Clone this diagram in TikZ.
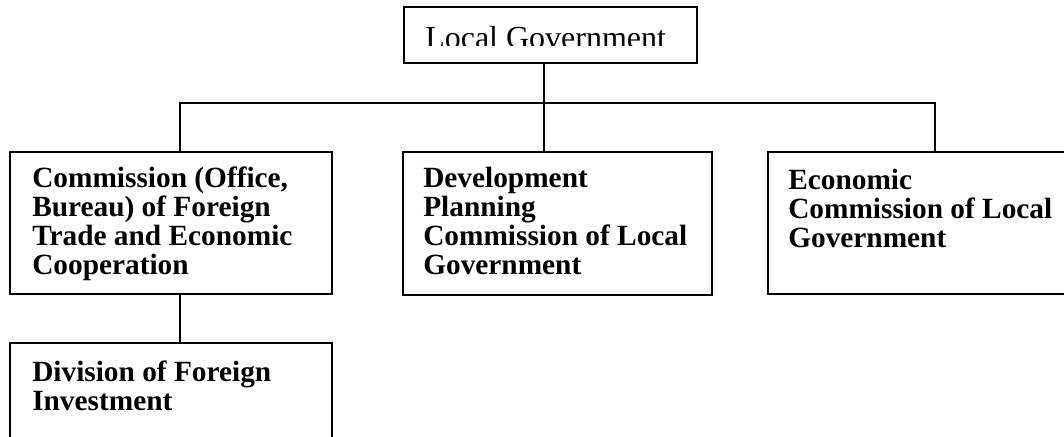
\documentclass[tikz,border=0pt]{standalone}
\usepackage{fontspec}
\setmainfont{Liberation Serif}
\usetikzlibrary{fit}

\tikzset{
  box/.style={draw, line width=1.1pt, inner sep=0pt, fit={#1}},
  boxtext/.style={anchor=base west, align=left, inner sep=0pt,
    font=\fontsize{22}{21.75}\selectfont\bfseries},
  wire/.style={line width=1.1pt}
}

\begin{document}
\begin{tikzpicture}[x=0.75pt, y=-0.75pt]
      \useasboundingbox (0,0) rectangle (1064,436);
      \clip (0,0) rectangle (1064,436);
      % boxes
      \node[box={(404,7) (697,63)}] (gov) {};
      \node[box={(10,152) (332,294)}] (com) {};
      \node[box={(403,152) (712,295)}] (dev) {};
      \node[box={(768,152) (1090,294)}] (eco) {};
      \node[box={(10,343) (332,470)}] (div) {};
      % texts (anchored on the last line)
      \begin{scope}
        \clip (404,7) rectangle (697,45);
        \node[anchor=base west, inner sep=0pt, font=\fontsize{24}{24}\selectfont] (govtext) at (425,48) {Local Government};
      \end{scope}
      \node[boxtext] (comtext) at (32,274) {Commission (Office,\\Bureau) of Foreign\\Trade and Economic\\Cooperation};
      \node[boxtext] (devtext) at (423,274) {Development\\Planning\\Commission of Local\\Government};
      \node[boxtext] (ecotext) at (788,247) {Economic\\Commission of Local\\Government};
      \node[boxtext] (divtext) at (32,410) {Division of Foreign\\Investment};
      % connectors
      \coordinate (jl) at (180,103);
      \coordinate (jm) at (544,103);
      \coordinate (jr) at (935,103);
      \draw[wire] (jm |- gov.south) -- (jm) -- (jm |- dev.north);
      \draw[wire] (jl |- com.north) -- (jl) -- (jr) -- (jr |- eco.north);
      \draw[wire] (jl |- com.south) -- (jl |- div.north);
    \end{tikzpicture}
\end{document}
